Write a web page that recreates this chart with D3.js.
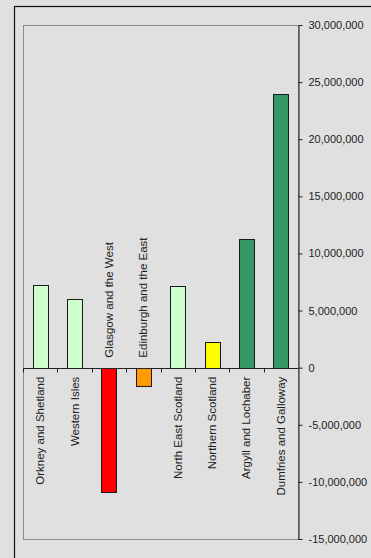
<!DOCTYPE html>
<html>
<head>
<meta charset="utf-8">
<script src="https://cdn.jsdelivr.net/npm/d3@7"></script>
<style>
  html, body { margin: 0; padding: 0; background: #e0e0e0; }
  svg { display: block; font-family: "Liberation Sans", Arial, sans-serif; }
</style>
</head>
<body>
<svg id="chart" width="371" height="558"></svg>
<script>
const regions = ['Orkney and Shetland', 'Western Isles', 'Glasgow and the West',
    'Edinburgh and the East', 'North East Scotland', 'Northern Scotland',
    'Argyll and Lochaber', 'Dumfries and Galloway'];
const values = [7250000, 6000000, -10850000, -1600000, 7150000, 2250000, 11300000, 23950000];
const barColors = ['#ccffcc', '#ccffcc', '#ff0000', '#ff9900', '#ccffcc', '#ffff00', '#339966', '#339966'];
const yTicks = [30000000, 25000000, 20000000, 15000000, 10000000, 5000000, 0,
    -5000000, -10000000, -15000000];

const svg = d3.select('#chart');
const plotLeft = 23, plotRight = 298, plotTop = 25, plotBottom = 539;

// outer chart border (runs off the right and bottom of the picture)
svg.append('rect')
    .attr('x', 14.5).attr('y', 6.5)
    .attr('width', 400).attr('height', 600)
    .attr('fill', '#e0e0e0')
    .attr('stroke', '#111').attr('stroke-width', 1.2);

// plot area
svg.append('rect')
    .attr('x', plotLeft + 0.5).attr('y', plotTop + 0.5)
    .attr('width', plotRight - plotLeft).attr('height', plotBottom - plotTop)
    .attr('fill', '#e0e0e0')
    .attr('stroke', '#8c8c8c').attr('stroke-width', 1);

const x = d3.scaleBand()
    .domain(regions)
    .range([plotLeft, plotRight])
    .paddingInner(0.56)
    .paddingOuter(0.28);

const y = d3.scaleLinear()
    .domain([-15000000, 30000000])
    .range([plotBottom, plotTop]);

const fmt = d3.formatLocale({
    decimal: '.', thousands: ',', grouping: [3], currency: ['', ''], minus: '-'
}).format(',');

// bars
svg.append('g')
    .selectAll('rect')
    .data(values)
    .join('rect')
    .attr('x', (d, i) => Math.round(x(regions[i])) + 0.5)
    .attr('y', d => Math.round(y(Math.max(d, 0))) + 0.5)
    .attr('width', Math.round(x.bandwidth()))
    .attr('height', d => Math.round(Math.abs(y(d) - y(0))))
    .attr('fill', (d, i) => barColors[i])
    .attr('stroke', '#1a1a1a')
    .attr('stroke-width', 1);

// zero line with category ticks
const step = (plotRight - plotLeft) / regions.length;
const zeroY = Math.round(y(0)) + 0.5;
const cat = svg.append('g');
cat.append('line')
    .attr('x1', plotLeft).attr('x2', plotRight)
    .attr('y1', zeroY).attr('y2', zeroY)
    .attr('stroke', '#222');
cat.selectAll('line.tick')
    .data(d3.range(regions.length))
    .join('line')
    .attr('class', 'tick')
    .attr('x1', i => Math.round(plotLeft + i * step) + 0.5)
    .attr('x2', i => Math.round(plotLeft + i * step) + 0.5)
    .attr('y1', zeroY).attr('y2', zeroY + 4)
    .attr('stroke', '#222');

// category labels, on the opposite side of the bar
svg.append('g')
    .selectAll('text')
    .data(regions)
    .join('text')
    .attr('transform', (d, i) => {
        const cx = x(d) + x.bandwidth() / 2;
        const ty = values[i] >= 0 ? y(0) + 9 : y(0) - 10;
        return `translate(${cx},${ty}) rotate(-90)`;
    })
    .attr('text-anchor', (d, i) => values[i] >= 0 ? 'end' : 'start')
    .attr('dy', '0.35em')
    .attr('font-size', 11.5)
    .attr('fill', '#222')
    .text(d => d);

// value axis on the right
const yAxis = d3.axisRight(y)
    .tickValues(yTicks)
    .tickFormat(fmt)
    .tickSize(4)
    .tickSizeOuter(0)
    .tickPadding(6);
const axisG = svg.append('g')
    .attr('transform', `translate(${plotRight + 0.5},0)`)
    .call(yAxis);
axisG.select('.domain').attr('stroke', '#222');
axisG.selectAll('.tick line').attr('stroke', '#222');
axisG.selectAll('.tick text')
    .attr('font-size', 11)
    .attr('font-family', '"Liberation Sans", Arial, sans-serif')
    .attr('fill', '#222');
</script>
</body>
</html>
